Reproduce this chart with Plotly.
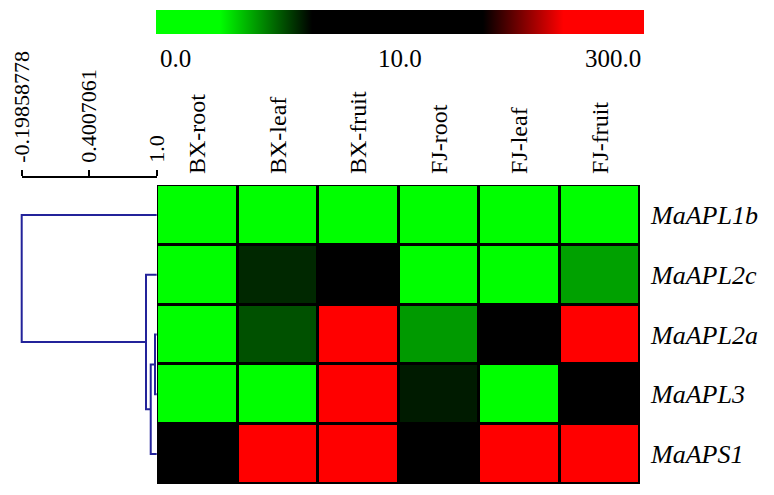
import plotly.graph_objects as go

W, H = 774, 495

samples = ["BX-root", "BX-leaf", "BX-fruit", "FJ-root", "FJ-leaf", "FJ-fruit"]
genes = ["MaAPL1b", "MaAPL2c", "MaAPL2a", "MaAPL3", "MaAPS1"]

MaAPL1b = [0.5, 0.8, 0.3, 0.4, 0.6, 0.5]
MaAPL2c = [1.2, 5.8, 9.0, 1.0, 0.9, 4.0]
MaAPL2a = [0.7, 5.2, 260, 4.1, 9.0, 280]
MaAPL3 = [0.6, 1.5, 250, 6.0, 1.1, 9.5]
MaAPS1 = [8.5, 240, 290, 9.0, 270, 300]

# colour-bar anchor values
bar_vals = [0.0, 10.0, 300.0]
bar_labels = ["0.0", "10.0", "300.0"]

# dendrogram linkage (child a, child b, similarity); leaves 0..4, new nodes 5..
links = [(2, 3, 0.985), (5, 4, 0.947), (1, 6, 0.905), (0, 7, -0.19858778)]
scale_ticks = [-0.19858778, 0.4007061, 1.0]
scale_text = ["-0.19858778", "0.4007061", "1.0"]


def to_pos(v):
    if v <= bar_vals[1]:
        return 0.5 * v / bar_vals[1]
    return 0.5 + 0.5 * (v - bar_vals[1]) / (bar_vals[2] - bar_vals[1])


rows = [MaAPL1b, MaAPL2c, MaAPL2a, MaAPL3, MaAPS1]
z = [[to_pos(v) for v in r] for r in rows]

colorscale = [[0, "#00ff00"], [0.13, "#00ff00"], [0.32, "#000000"],
              [0.67, "#000000"], [0.835, "#ff0000"], [1, "#ff0000"]]

# pixel helpers
def px(x):
    return x / W

def py(y):
    return 1 - y / H

hm_x0, hm_x1 = 157, 640
hm_y0, hm_y1 = 185, 484

fig = go.Figure()

fig.add_trace(go.Heatmap(
    z=z, x=list(range(len(samples))), y=list(range(len(genes))),
    colorscale=colorscale, zmin=0, zmax=1, xgap=3, ygap=3,
    xaxis="x", yaxis="y",
    colorbar=dict(orientation="h", x=px(400), xanchor="center",
                  y=py(10), yanchor="top", yref="paper",
                  len=488, lenmode="pixels", thickness=24, thicknessmode="pixels",
                  outlinewidth=0, showticklabels=False, ticks="", xpad=0, ypad=0),
))

# dendrogram
node_x = {i: 1.0 for i in range(len(genes))}
node_y = {i: float(i) for i in range(len(genes))}
dx, dy = [], []
nid = len(genes)
for a, b, h in links:
    ya, yb = node_y[a], node_y[b]
    dx += [node_x[a], h, h, node_x[b], None]
    dy += [ya, ya, yb, yb, None]
    node_x[nid] = h
    node_y[nid] = (ya + yb) / 2
    nid += 1

fig.add_trace(go.Scatter(x=dx, y=dy, mode="lines",
                         line=dict(color="#23239a", width=2),
                         xaxis="x2", yaxis="y", hoverinfo="skip", showlegend=False))

# scale axis carrier
fig.add_trace(go.Scatter(x=[scale_ticks[0], scale_ticks[-1]], y=[0, 0], mode="markers",
                         marker=dict(opacity=0), xaxis="x3", yaxis="y3",
                         hoverinfo="skip", showlegend=False))

font_serif = "Liberation Serif"

# dendro x range: pixel 21.7 -> -0.19858778 , 156.7 -> 1.0
slope = (156.7 - 21.7) / (1.0 - scale_ticks[0])
r0 = scale_ticks[0] - 21.7 / slope
r1 = scale_ticks[0] + (hm_x0 - 21.7) / slope

fig.update_layout(
    width=W, height=H, margin=dict(l=0, r=0, t=0, b=0, autoexpand=False),
    paper_bgcolor="white", plot_bgcolor="white",
    font=dict(family=font_serif, color="black"),
    xaxis=dict(domain=[px(hm_x0), px(hm_x1)], range=[-0.5, 5.5], side="top",
               tickvals=list(range(len(samples))), ticktext=samples,
               tickangle=-90, tickfont=dict(size=24, family=font_serif),
               ticks="", ticklabelstandoff=10, showgrid=False, zeroline=False,
               showline=False, anchor="y", fixedrange=True),
    yaxis=dict(domain=[py(hm_y1), py(hm_y0)], range=[4.5, -0.5], side="right",
               tickvals=list(range(len(genes))),
               ticktext=["<i>%s</i>" % g for g in genes],
               tickfont=dict(size=26, family=font_serif),
               ticks="", ticklabelstandoff=10, showgrid=False, zeroline=False,
               showline=False, anchor="x"),
    xaxis2=dict(domain=[0, px(hm_x0)], range=[r0, r1], visible=False,
                anchor="y", showgrid=False, zeroline=False),
    xaxis3=dict(domain=[px(21.7), px(156.7)], range=[scale_ticks[0], 1.0],
                anchor="free", position=py(177), side="top",
                tickvals=scale_ticks, ticktext=scale_text, tickangle=-90,
                tickfont=dict(size=22, family=font_serif),
                ticks="outside", ticklen=6, tickwidth=1.5, tickcolor="black",
                showline=True, linecolor="black", linewidth=1.5,
                showgrid=False, zeroline=False, ticklabelstandoff=3),
    yaxis3=dict(domain=[py(178), py(176)], visible=False, anchor="x3"),
    shapes=[dict(type="rect", xref="x domain", yref="y domain",
                 x0=0, x1=1, y0=0, y1=1, fillcolor="black",
                 line=dict(width=0), layer="below")],
)

label_anchor = ["left", "center", "right"]
label_x = [158, 400, 643]
for t, xa, xp in zip(bar_labels, label_anchor, label_x):
    fig.add_annotation(text=t, x=px(xp), y=py(59), xref="paper", yref="paper",
                       xanchor=xa, yanchor="middle", showarrow=False,
                       font=dict(size=25, family=font_serif, color="black"))

fig.write_html("out.html", config={"displayModeBar": False},
               post_script="document.body.style.margin='0px';document.body.style.overflow='hidden';")
